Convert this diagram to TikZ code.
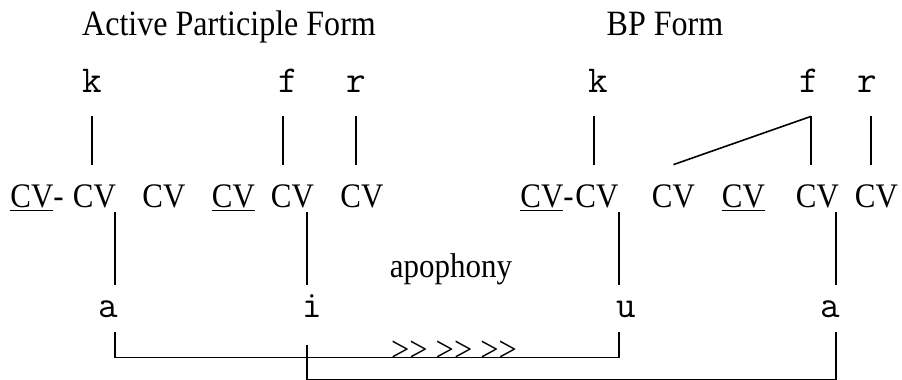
\documentclass[tikz,border=0pt]{standalone}
\usepackage{fontspec}
\setmainfont{Liberation Serif}
\newfontfamily\tallserif[FakeStretch=0.9]{Liberation Serif}
\usepackage{tikz}
\usetikzlibrary{positioning, calc}

\begin{document}
\begin{tikzpicture}[x=0.5pt, y=-0.5pt, every node/.style={inner sep=0pt, anchor=base}]
    % Define styles
    \tikzset{
        heading/.style={font=\tallserif\fontsize{17.8}{21}\selectfont},
        slot/.style={font=\tallserif\fontsize{17.2}{20}\selectfont, text height=10pt, text depth=2pt},
        seg/.style={font=\fontsize{19}{22}\selectfont\ttfamily, text height=7pt, text depth=0pt},
        link/.style={line width=0.8pt},
    }
    \useasboundingbox (0,0) rectangle (902,380);

    % Headings
    \node[heading] (apform) at (229,35) {Active Participle Form};
    \node[heading] (bpform) at (665,35) {BP Form};

    % Root consonants
    \node[seg] (k1) at (92,92) {k};
    \node[seg] (f1) at (288,92) {f};
    \node[seg] (r1) at (356,92) {r};
    \node[seg] (k2) at (598,92) {k};
    \node[seg] (f2) at (809,92) {f};
    \node[seg] (r2) at (867,92) {r};

    % CV skeleton
    \node[slot, anchor=base west] (cv1) at (10,207) {\underline{CV}-};
    \node[slot] (cv2) at (94.5,207) {CV};
    \node[slot] (cv3) at (164,207) {CV};
    \node[slot] (cv4) at (233.5,207) {\underline{CV}};
    \node[slot] (cv5) at (292.5,207) {CV};
    \node[slot] (cv6) at (362,207) {CV};
    \node[slot, anchor=base west] (cv7) at (520,207) {\underline{CV}-};
    \node[slot] (cv8) at (597,207) {CV};
    \node[slot] (cv9) at (673.5,207) {CV};
    \node[slot] (cv10) at (743.5,207) {\underline{CV}};
    \node[slot] (cv11) at (817.5,207) {CV};
    \node[slot] (cv12) at (876.5,207) {CV};

    % Vowels
    \node[seg] (a1) at (108,317) {a};
    \node[seg] (i1) at (312,317) {i};
    \node[seg] (u1) at (626,317) {u};
    \node[seg] (a2) at (830,317) {a};

    \node[slot] (apo) at (451,278) {apophony};
    \node[slot, font=\tallserif\fontsize{18}{20}\selectfont] (shift) at (454,361) {>\kern0pt> >\kern0pt> >\kern0pt>};

    % Root to skeleton
    \draw[link, shorten <=12pt, shorten >=11pt] (k1.south) -- (k1.south |- cv2.north);
    \draw[link, shorten <=12pt, shorten >=11pt] ([xshift=-2.5pt]f1.south) -- ([xshift=-2.5pt]f1.south |- cv5.north);
    \draw[link, shorten <=12pt, shorten >=11pt] (r1.south) -- (r1.south |- cv6.north);
    \draw[link, shorten <=12pt, shorten >=11pt] ([xshift=-2pt]k2.south) -- ([xshift=-2pt]k2.south |- cv8.north);
    \draw[link, shorten <=12pt, shorten >=11pt] ([xshift=1pt]f2.south) -- ([xshift=1pt]f2.south |- cv11.north);
    \draw[link] ([xshift=1pt, yshift=-12pt]f2.south) -- ([yshift=11pt]cv9.north);
    \draw[link, shorten <=12pt, shorten >=11pt] ([xshift=2pt]r2.south) -- ([xshift=2pt]r2.south |- cv12.north);

    % Skeleton to vowels
    \draw[link, shorten <=9pt, shorten >=0.5pt] ([xshift=3.5pt]a1.north) -- ([xshift=3.5pt]a1.north |- cv2.south);
    \draw[link, shorten <=9pt, shorten >=0.5pt] ([xshift=-2.5pt]i1.north) -- ([xshift=-2.5pt]i1.north |- cv5.south);
    \draw[link, shorten <=9pt, shorten >=0.5pt] ([xshift=-3.5pt]u1.north) -- ([xshift=-3.5pt]u1.north |- cv8.south);
    \draw[link, shorten <=9pt, shorten >=0.5pt] ([xshift=3pt]a2.north) -- ([xshift=3pt]a2.north |- cv11.south);

    % Apophony mapping
    \draw[link] ([xshift=3.5pt, yshift=-7.5pt]a1.south) -- ++(0,25) -| ([xshift=-3.5pt, yshift=-7.5pt]u1.south);
    \draw[link] ([xshift=-2.5pt, yshift=-14pt]i1.south) -- ++(0,34) -| ([xshift=3pt, yshift=-7.5pt]a2.south);
\end{tikzpicture}
\end{document}
